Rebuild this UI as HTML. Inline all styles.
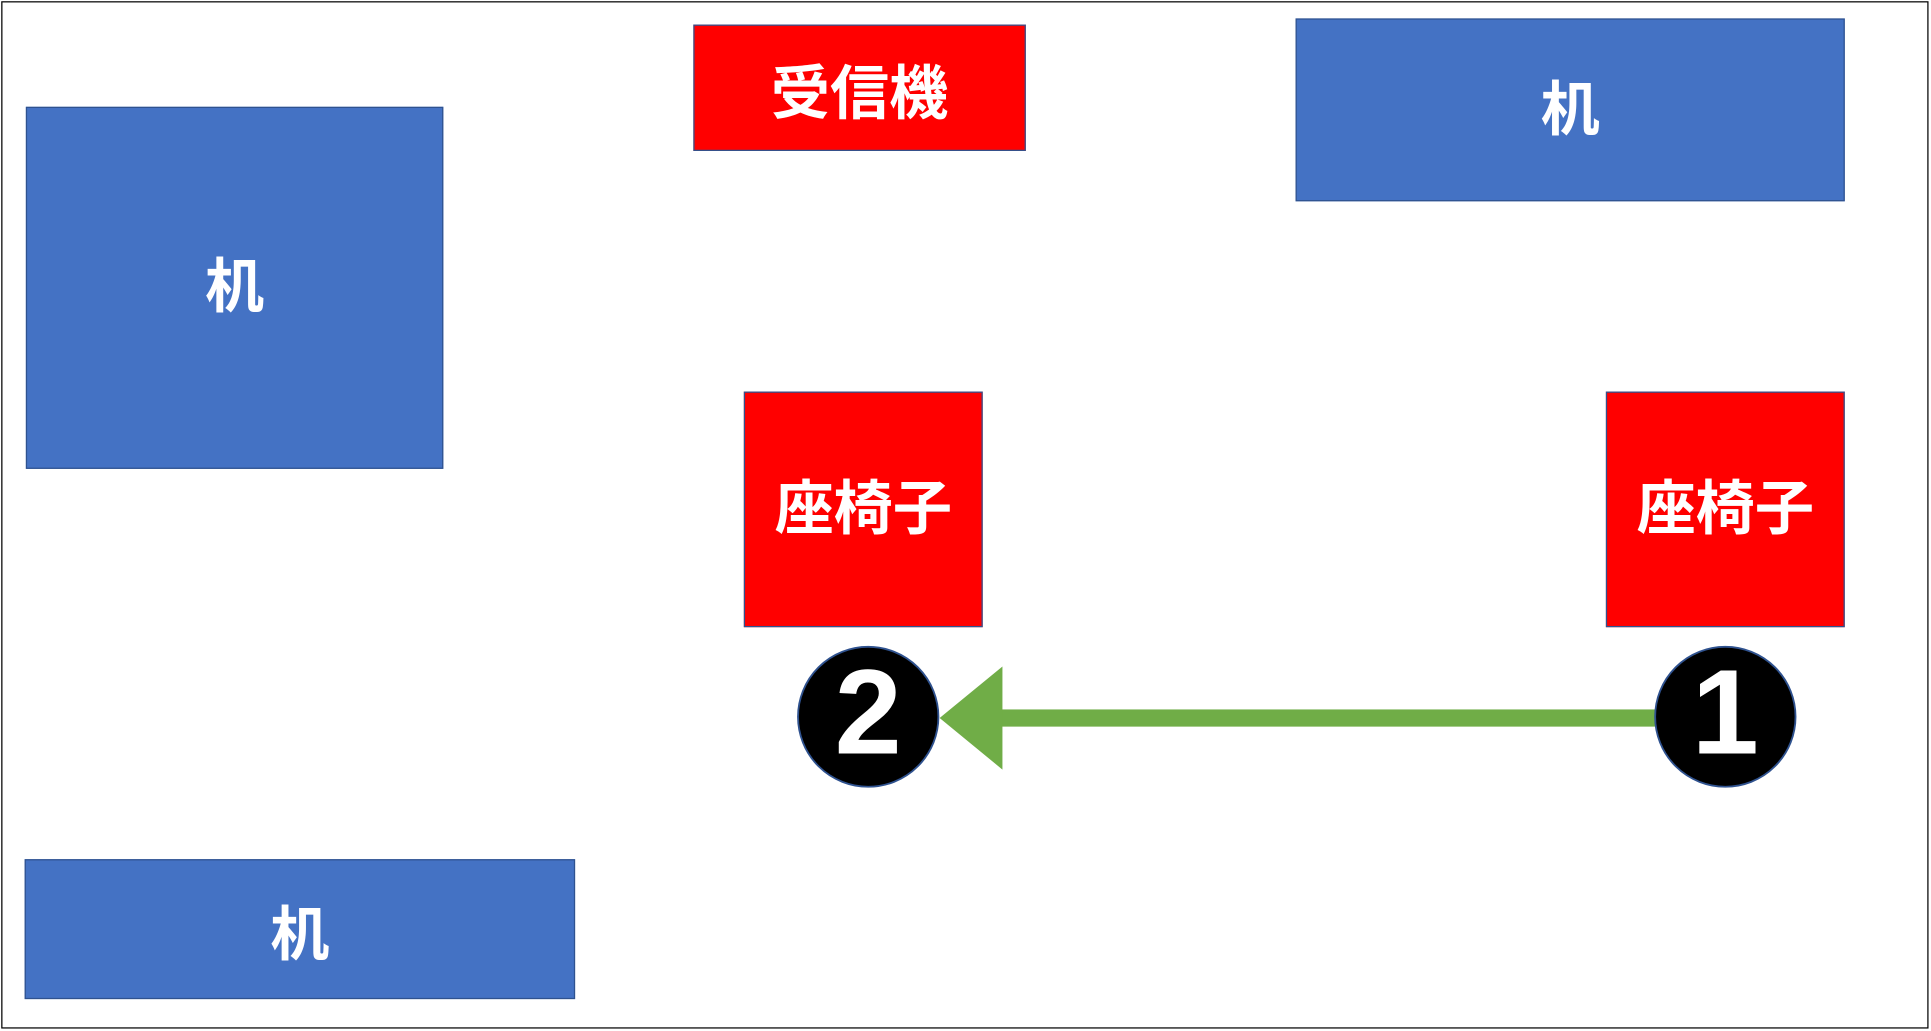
<!DOCTYPE html>
<html><head><meta charset="utf-8"><style>
html,body{margin:0;padding:0;background:#fff;overflow:hidden}
#w{width:1931px;height:1031px;position:relative;overflow:hidden}
#c{position:absolute;left:0;top:0;width:1568px;height:840px;transform:scale(1.2315,1.2274);transform-origin:0 0}
.b{position:absolute;box-sizing:border-box;border:1.5px solid #2f528f;display:flex;align-items:center;justify-content:center;color:#fff;font-family:"Liberation Sans","Noto Sans CJK JP",sans-serif;font-weight:bold;font-size:48px}
.blue{background:#4472c4}.red{background:#ff0000}
</style></head><body><div id="w"><div id="c">
<div style="position:absolute;left:1px;top:1px;width:1565px;height:837px;border:1.5px solid #000;box-sizing:border-box"></div>
<div class="b blue" style="left:21px;top:87px;width:339px;height:295px"><span style="position:relative;top:-6px">机</span></div>
<div class="b red" style="left:563px;top:20px;width:270px;height:103px">受信機</div>
<div class="b blue" style="left:1052px;top:15px;width:446px;height:149px"><span style="position:relative;top:-5px">机</span></div>
<div class="b red" style="left:604px;top:319px;width:194px;height:192px"><span style="position:relative;top:-5px">座椅子</span></div>
<div class="b red" style="left:1304px;top:319px;width:194px;height:192px"><span style="position:relative;top:-5px">座椅子</span></div>
<div class="b blue" style="left:20px;top:700px;width:447px;height:114px">机</div>
<svg style="position:absolute;left:0;top:0" width="1568" height="840">
<rect x="812" y="578" width="536" height="14" fill="#70ad47"/>
<polygon points="763,585 814,543 814,627" fill="#70ad47"/>
<circle cx="705" cy="584" r="57" fill="#000" stroke="#2f528f" stroke-width="1.5"/>
<circle cx="1401" cy="584" r="57" fill="#000" stroke="#2f528f" stroke-width="1.5"/>
<text x="705" y="614" text-anchor="middle" font-family="Liberation Sans, sans-serif" font-weight="bold" font-size="98" fill="#fff">2</text>
<text x="1401" y="614" text-anchor="middle" font-family="Liberation Sans, sans-serif" font-weight="bold" font-size="98" fill="#fff">1</text>
</svg>
</div></div></body></html>
